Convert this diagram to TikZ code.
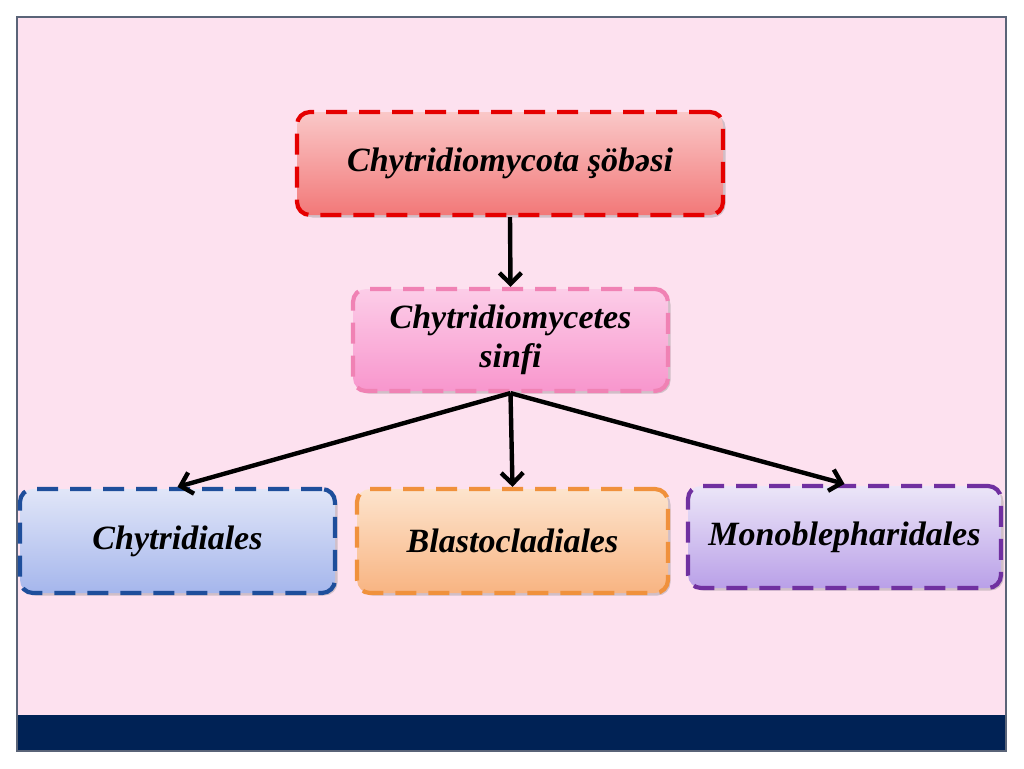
\documentclass[tikz,border=0pt]{standalone}
\usepackage{fontspec}
\setmainfont{Liberation Serif}
\usetikzlibrary{arrows.meta,shadows}
\definecolor{slidepink}{HTML}{FDE1EF}
\definecolor{navy}{HTML}{002255}
\definecolor{frame}{HTML}{5A6478}
\begin{document}
\begin{tikzpicture}[x=1pt,y=-1pt,
  box/.style={draw, line width=4.2pt, dash pattern=on 21pt off 12pt, rounded corners=13pt,
    minimum height=103pt, align=center, inner sep=0pt,
    font=\fontsize{34}{39}\selectfont\bfseries\itshape,
    drop shadow={shadow xshift=2.5pt, shadow yshift=-2.5pt, opacity=0.35}},
  conn/.style={line width=4.4pt, -{Straight Barb[length=11pt,width=22pt,line width=4.4pt]}}]
\useasboundingbox (0,0) rectangle (1024,768);
\fill[white] (0,0) rectangle (1024,768);
\fill[slidepink] (17,17) rectangle (1006,715);
\fill[navy] (17,715) rectangle (1006,751);
\draw[frame, line width=1.2pt] (17,17) rectangle (1006,751);
\node[box, draw=red!90!black, top color={rgb,255:red,250;green,200;blue,200}, bottom color={rgb,255:red,242;green,120;blue,120}, minimum width=426pt] (top) at (510,163.5) {Chytridiomycota şöbəsi};
\node[box, draw={rgb,255:red,240;green,130;blue,180}, top color={rgb,255:red,252;green,205;blue,232}, bottom color={rgb,255:red,248;green,150;blue,205}, minimum width=315pt, minimum height=102pt] (mid) at (510.5,340) {Chytridiomycetes\\sinfi};
\node[box, draw={rgb,255:red,30;green,78;blue,155}, top color={rgb,255:red,225;green,230;blue,248}, bottom color={rgb,255:red,165;green,182;blue,236}, minimum width=315pt, minimum height=104pt] (chy) at (177.5,541) {Chytridiales};
\node[box, draw={rgb,255:red,240;green,145;blue,60}, top color={rgb,255:red,253;green,228;blue,205}, bottom color={rgb,255:red,248;green,180;blue,130}, minimum width=311pt, minimum height=104pt] (bla) at (512.5,541) {Blastocladiales};
\node[box, draw={rgb,255:red,112;green,48;blue,160}, top color={rgb,255:red,236;green,230;blue,248}, bottom color={rgb,255:red,185;green,160;blue,232}, minimum width=313pt, minimum height=102pt] (mon) at (844.5,537) {Monoblepharidales};
\draw[conn] (top.south) -- (mid.north);
\draw[conn] (mid.south) -- (chy.north);
\draw[conn] (mid.south) -- (bla.north);
\draw[conn] (mid.south) -- (mon.north);
\end{tikzpicture}
\end{document}
